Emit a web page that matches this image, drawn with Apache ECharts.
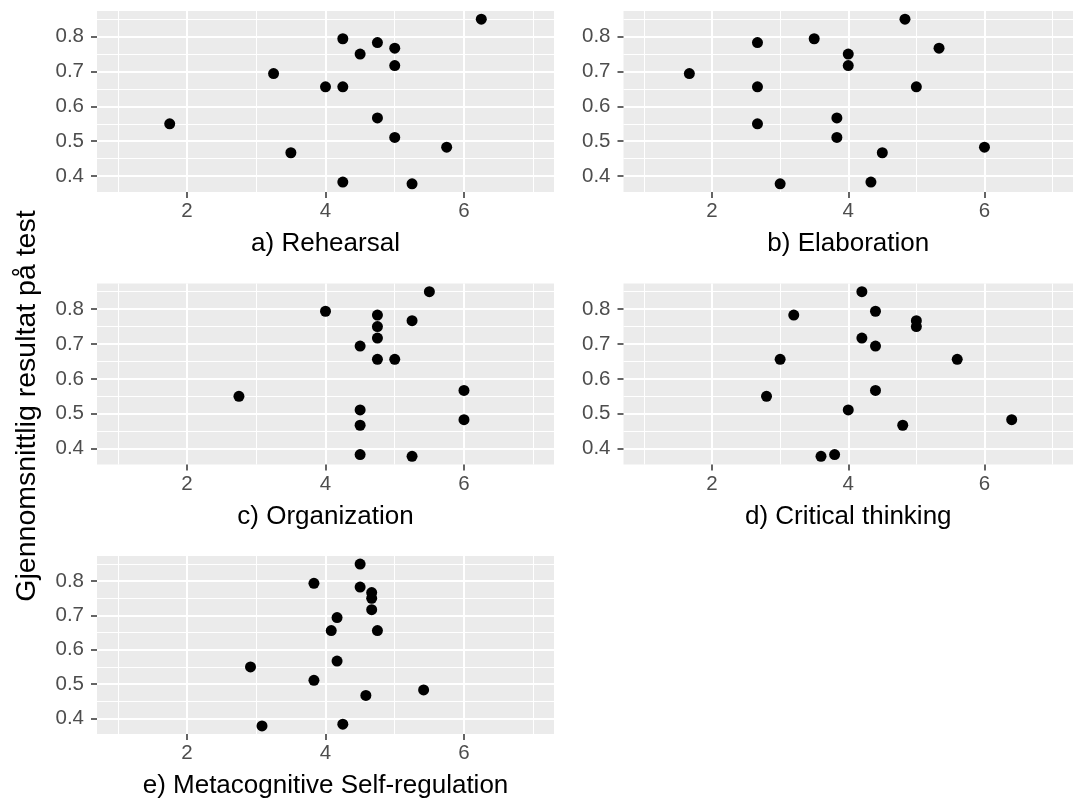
<!DOCTYPE html>
<html>
<head>
<meta charset="utf-8">
<script src="https://cdn.jsdelivr.net/npm/echarts@6/dist/echarts.min.js"></script>
<style>html,body{margin:0;padding:0;background:#fff}#c{width:1073px;height:800px}</style>
</head>
<body>
<div id="c"></div>
<script>
// Test score (y) shared by all panels, one entry per student
const scores = [0.850, 0.794, 0.783, 0.767, 0.750, 0.717, 0.694, 0.656, 0.656, 0.567, 0.550, 0.511, 0.483, 0.467, 0.383, 0.378];
// Strategy scores (x), aligned with scores
const rehearsal     = [6.25, 4.25, 4.75, 5.0, 4.5, 5.0, 3.25, 4.0, 4.25, 4.75, 1.75, 5.0, 5.75, 3.5, 4.25, 5.25];
const elaboration   = [4.833, 3.5, 2.667, 5.333, 4.0, 4.0, 1.667, 2.667, 5.0, 3.833, 2.667, 3.833, 6.0, 4.5, 4.333, 3.0];
const organization  = [5.5, 4.0, 4.75, 5.25, 4.75, 4.75, 4.5, 4.75, 5.0, 6.0, 2.75, 4.5, 6.0, 4.5, 4.5, 5.25];
const criticalThink = [4.2, 4.4, 3.2, 5.0, 5.0, 4.2, 4.4, 3.0, 5.6, 4.4, 2.8, 4.0, 6.4, 4.8, 3.8, 3.6];
const metacognitive = [4.5, 3.833, 4.5, 4.667, 4.667, 4.667, 4.167, 4.083, 4.75, 4.167, 2.917, 3.833, 5.417, 4.583, 4.25, 3.083];

const panelTitles = ['a) Rehearsal', 'b) Elaboration', 'c) Organization', 'd) Critical thinking', 'e) Metacognitive Self-regulation'];
const panelX = [rehearsal, elaboration, organization, criticalThink, metacognitive];
const yTitle = 'Gjennomsnittlig resultat på test';

const xMajorTicks = [2, 4, 6];
const xMinorTicks = [1, 3, 5, 7];
const yMajorTicks = [0.4, 0.5, 0.6, 0.7, 0.8];
const yMinorTicks = [0.45, 0.55, 0.65, 0.75, 0.85];
const xScaleLimits = [1, 7];

// ggplot-style 5% expansion
function expand(lo, hi) { const d = (hi - lo) * 0.05; return [lo - d, hi + d]; }
const xLim = expand(xScaleLimits[0], xScaleLimits[1]);
const yLim = expand(Math.min(...scores), Math.max(...scores));

const FONT = '"Liberation Sans", Arial, Helvetica, sans-serif';
const layouts = [
  {left: 97, top: 11}, {left: 623.5, top: 11},
  {left: 97, top: 283.5}, {left: 623.5, top: 283.5},
  {left: 97, top: 556}
];
const PW = 457, PH = 181;

const grid = [], xAxis = [], yAxis = [], series = [];
panelTitles.forEach((t, i) => {
  grid.push({left: layouts[i].left, top: layouts[i].top, width: PW, height: PH,
    show: true, backgroundColor: '#EBEBEB', borderWidth: 0});
  xAxis.push({
    type: 'value', gridIndex: i, min: xLim[0], max: xLim[1], position: 'bottom',
    axisLine: {show: false},
    axisTick: {show: true, length: 6, customValues: xMajorTicks, lineStyle: {color: '#333333', width: 1.5}},
    axisLabel: {customValues: xMajorTicks, color: '#4D4D4D', fontSize: 20.5, margin: 9, fontFamily: FONT},
    splitLine: {show: true, lineStyle: {color: '#FFFFFF', width: 2}},
    name: t, nameLocation: 'middle', nameGap: 39,
    nameTextStyle: {color: '#000', fontSize: 26, fontFamily: FONT}
  });
  xAxis.push({
    type: 'value', gridIndex: i, min: xLim[0], max: xLim[1], position: 'top',
    axisLine: {show: false},
    axisTick: {show: false, customValues: xMinorTicks},
    axisLabel: {show: false, customValues: xMinorTicks},
    splitLine: {show: true, lineStyle: {color: '#FFFFFF', width: 1}}
  });
  yAxis.push({
    type: 'value', gridIndex: i, min: yLim[0], max: yLim[1], position: 'left',
    axisLine: {show: false},
    axisTick: {show: true, length: 6, customValues: yMajorTicks, lineStyle: {color: '#333333', width: 1.5}},
    axisLabel: {customValues: yMajorTicks, color: '#4D4D4D', fontSize: 20.5, margin: 13, fontFamily: FONT,
      formatter: v => v.toFixed(1)},
    splitLine: {show: true, lineStyle: {color: '#FFFFFF', width: 2}}
  });
  yAxis.push({
    type: 'value', gridIndex: i, min: yLim[0], max: yLim[1], position: 'right',
    axisLine: {show: false},
    axisTick: {show: false, customValues: yMinorTicks},
    axisLabel: {show: false, customValues: yMinorTicks},
    splitLine: {show: true, lineStyle: {color: '#FFFFFF', width: 1}}
  });
  series.push({
    type: 'scatter', xAxisIndex: 2 * i, yAxisIndex: 2 * i,
    data: panelX[i].map((x, k) => [x, scores[k]]),
    symbol: 'circle', symbolSize: 11,
    itemStyle: {color: '#000000', opacity: 1},
    emphasis: {disabled: true}, silent: true
  });
});

const chart = echarts.init(document.getElementById('c'), null, {renderer: 'canvas'});
chart.setOption({
  animation: false,
  backgroundColor: '#FFFFFF',
  grid, xAxis, yAxis, series,
  graphic: [{
    type: 'text', x: 27, y: 406, rotation: Math.PI / 2,
    style: {text: yTitle, fill: '#000', fontSize: 28.5, fontFamily: FONT, align: 'center', verticalAlign: 'middle'}
  }]
});
</script>
</body>
</html>
